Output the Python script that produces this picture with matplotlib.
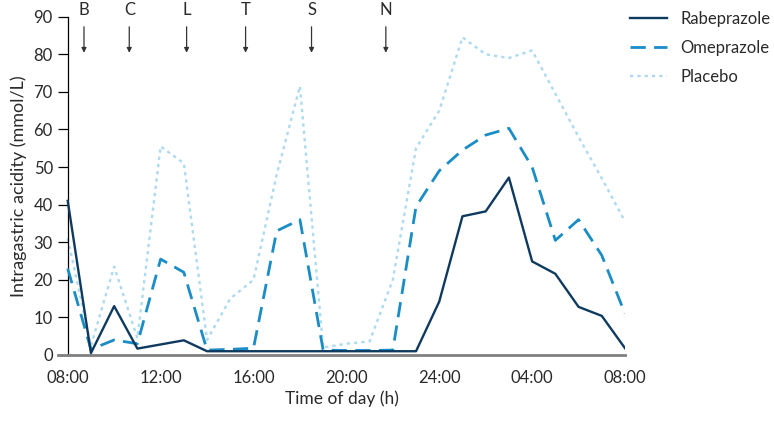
import matplotlib.pyplot as plt

plt.rcParams['font.family'] = ['Lato', 'DejaVu Sans']

# hours after 08:00
hours = list(range(25))

rabeprazole = [41, 0.5, 13, 1.7, 2.8, 3.9, 1, 1, 1, 1, 1, 1, 1, 1, 1, 1,
               14.2, 36.9, 38.2, 47.2, 24.9, 21.6, 12.8, 10.4, 1.8]
omeprazole = [23, 1.5, 4, 3, 25.5, 22, 1.3, 1.5, 1.8, 33, 36, 1.3, 1.2, 1.2, 1.3,
              39.5, 49, 54.5, 58.5, 60.3, 50, 30.5, 36, 26.5, 11]
placebo = [31, 2.5, 23.5, 4.5, 55.5, 51, 4, 15, 20, 48, 71.5, 2, 3, 3.6, 20,
           55, 65, 84.5, 80, 79, 81, 69.5, 58, 47, 35.5]

tick_hours = [0, 4, 8, 12, 16, 20, 24]
tick_labels = ['08:00', '12:00', '16:00', '20:00', '24:00', '04:00', '08:00']

# meal markers: breakfast, coffee, lunch, tea, supper, night snack
meal_labels = ['B', 'C', 'L', 'T', 'S', 'N']
meal_hours = [0.7, 2.65, 5.12, 7.66, 10.5, 13.7]

txt = '#2a2a2a'

fig = plt.figure(figsize=(7.74, 4.21), dpi=100)
ax = fig.add_axes([0.0749, 0.1568, 0.7326, 0.8036])

ax.plot(hours, placebo, color='#addaef', lw=1.7, linestyle=(0, (1.4, 1.7)),
        label='Placebo', zorder=2)
ax.plot(hours, omeprazole, color='#1a8cc6', lw=2.0, linestyle=(0, (5.5, 3)),
        label='Omeprazole', zorder=3)
ax.plot(hours, rabeprazole, color='#0f3a5f', lw=1.7, label='Rabeprazole', zorder=4)

ax.set_xlim(-0.42, 24)
ax.set_ylim(0, 90)
ax.set_yticks(range(0, 91, 10))
ax.set_xticks(tick_hours)
ax.set_xticklabels(tick_labels)

for s in ['top', 'right']:
    ax.spines[s].set_visible(False)
ax.spines['left'].set_position(('data', 0))
ax.spines['left'].set_color('black')
ax.spines['left'].set_linewidth(0.9)
ax.spines['bottom'].set_color('#808080')
ax.spines['bottom'].set_linewidth(2.0)

ax.tick_params(axis='y', length=7.2, width=0.9, color='black', labelsize=12, pad=3.5,
               labelcolor=txt)
ax.tick_params(axis='x', length=0, labelsize=12, pad=10.5, labelcolor=txt)

ax.set_xlabel('Time of day (h)', fontsize=12.5, color=txt, labelpad=3.5)
ax.set_ylabel('Intragastric acidity (mmol/L)', fontsize=13, color=txt, labelpad=5)

for lab, t in zip(meal_labels, meal_hours):
    ax.text(t, 91.8, lab, ha='center', va='center', fontsize=12, color=txt,
            clip_on=False)
    ax.annotate('', xy=(t, 80.4), xytext=(t, 87.3),
                arrowprops=dict(arrowstyle='-|>', color='#333333', lw=0.9,
                                mutation_scale=7, shrinkA=0, shrinkB=0),
                annotation_clip=False)

handles, labels = ax.get_legend_handles_labels()
order = [2, 1, 0]
fig.legend([handles[i] for i in order], [labels[i] for i in order],
           loc='upper left', bbox_to_anchor=(0.814, 0.974), frameon=False,
           fontsize=12, handlelength=2.2, handletextpad=0.8, labelspacing=0.78,
           borderpad=0, borderaxespad=0, labelcolor=txt)

fig.savefig('out.png', dpi=100)
